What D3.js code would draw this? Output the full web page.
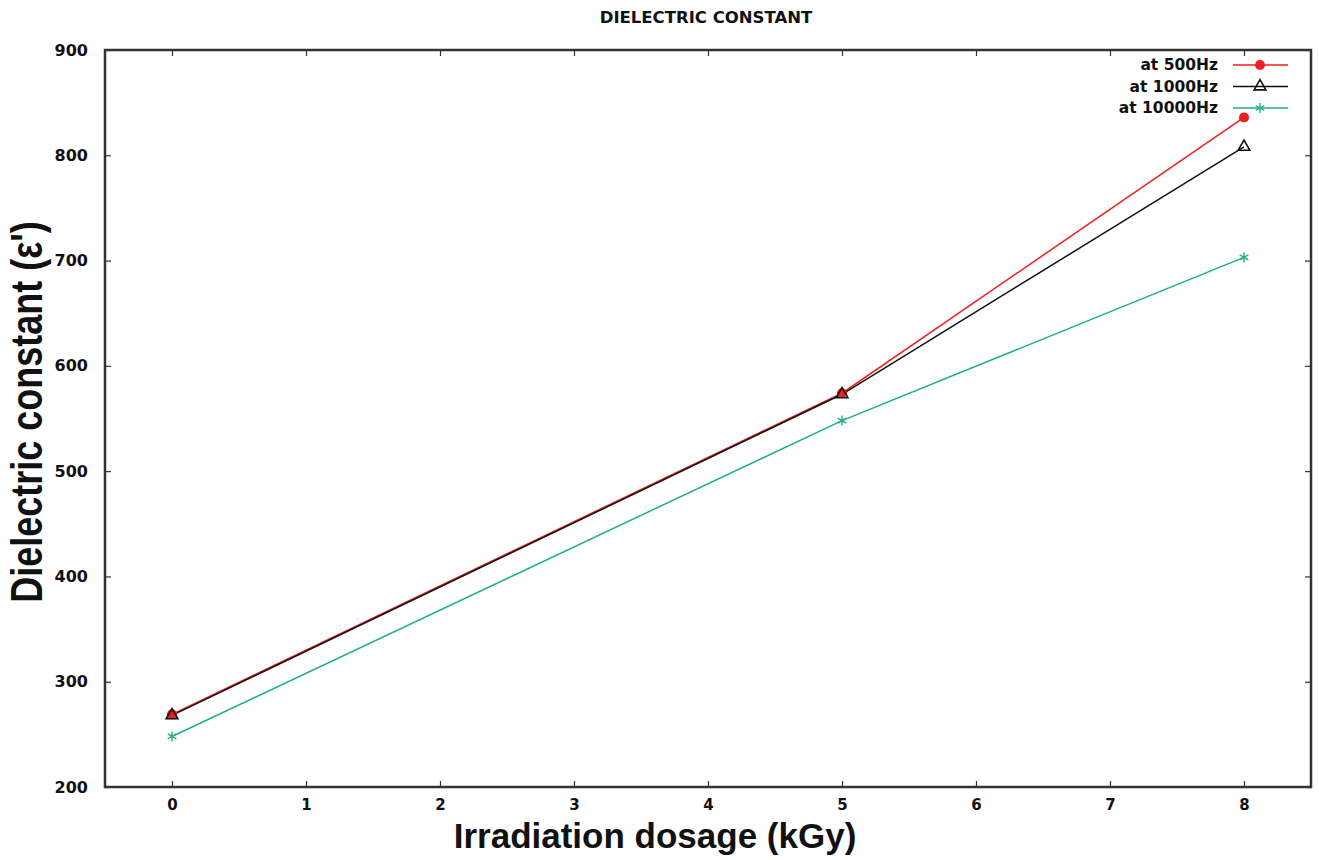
<!DOCTYPE html>
<html>
<head>
<meta charset="utf-8">
<script src="https://cdn.jsdelivr.net/npm/d3@7"></script>
<style>
  body { margin: 0; background: #fff; }
  svg text { fill: #111; }
</style>
</head>
<body>
<div id="chart"></div>
<script>
// data
var doses = [0, 5, 8];
var at500 = [269, 574, 836];
var at1000 = [268, 573, 808];
var at10000 = [248, 548, 703];
var xTicks = [0, 1, 2, 3, 4, 5, 6, 7, 8];
var yTicks = [200, 300, 400, 500, 600, 700, 800, 900];

var seriesNames = ["at 500Hz", "at 1000Hz", "at 10000Hz"];
var seriesValues = [at500, at1000, at10000];
var seriesColors = ["#f01e1e", "#111111", "#1fae8a"];
var seriesMarks = ["circle", "triangle", "star"];

var W = 1319, H = 860;
var margin = {top: 50, right: 8, bottom: 73, left: 105},
    width = W - margin.left - margin.right,
    height = H - margin.top - margin.bottom;

var svg = d3.select("#chart").append("svg")
    .attr("width", W)
    .attr("height", H);

var g = svg.append("g")
    .attr("transform", "translate(" + margin.left + "," + margin.top + ")");

var x = d3.scaleLinear().domain([-0.5, 8.5]).range([0, width]);
var y = d3.scaleLinear().domain([200, 900]).range([height, 0]);

// ticks on all four sides, pointing inward
function styleAxis(sel) {
    sel.select(".domain").remove();
    sel.selectAll("line").attr("stroke", "#333").attr("stroke-width", 1.2);
}
g.append("g")
    .attr("transform", "translate(0," + height + ")")
    .call(d3.axisBottom(x).tickValues(xTicks).tickSize(-6).tickPadding(12).tickFormat(d3.format("d")))
    .call(styleAxis)
    .selectAll("text")
        .style("font-family", "DejaVu Sans")
        .style("font-weight", "bold")
        .style("font-size", "15px");
g.append("g")
    .call(d3.axisTop(x).tickValues(xTicks).tickSize(-6).tickFormat(""))
    .call(styleAxis);
g.append("g")
    .call(d3.axisLeft(y).tickValues(yTicks).tickSize(-6).tickPadding(17))
    .call(styleAxis)
    .selectAll("text")
        .style("font-family", "DejaVu Sans")
        .style("font-weight", "bold")
        .style("font-size", "16px");
g.append("g")
    .attr("transform", "translate(" + width + ",0)")
    .call(d3.axisRight(y).tickValues(yTicks).tickSize(-6).tickFormat(""))
    .call(styleAxis);

// frame
g.append("rect")
    .attr("width", width)
    .attr("height", height)
    .attr("fill", "none")
    .attr("stroke", "#333")
    .attr("stroke-width", 2.5);

var line = d3.line()
    .x(function(d, i) { return x(doses[i]); })
    .y(function(d) { return y(d); });

function drawMark(sel, kind, color) {
    if (kind === "circle") {
        sel.append("circle").attr("r", 5).attr("fill", color);
    } else if (kind === "triangle") {
        sel.append("path")
            .attr("d", d3.symbol().type(d3.symbolTriangle).size(60))
            .attr("fill", "none").attr("stroke", color).attr("stroke-width", 1.6);
    } else {
        sel.append("path")
            .attr("d", d3.symbol().type(d3.symbolAsterisk).size(70))
            .attr("fill", "none").attr("stroke", color).attr("stroke-width", 1.4);
    }
}

// draw 10000Hz first, then 500Hz, then 1000Hz on top
var order = [2, 0, 1];
order.forEach(function(k) {
    g.append("path")
        .datum(seriesValues[k])
        .attr("fill", "none")
        .attr("stroke", seriesColors[k])
        .attr("stroke-width", 1.5)
        .attr("d", line);
});
order.forEach(function(k) {
    seriesValues[k].forEach(function(v, i) {
        var m = g.append("g")
            .attr("transform", "translate(" + x(doses[i]) + "," + y(v) + ")");
        drawMark(m, seriesMarks[k], seriesColors[k]);
    });
});

// legend
var legend = svg.append("g");
seriesNames.forEach(function(name, k) {
    var ly = 65 + k * 21.5;
    legend.append("text")
        .attr("x", 1218).attr("y", ly)
        .attr("dy", "0.35em")
        .attr("text-anchor", "end")
        .style("font-family", "DejaVu Sans")
        .style("font-weight", "bold")
        .style("font-size", "15.5px")
        .text(name);
    legend.append("line")
        .attr("x1", 1233).attr("x2", 1288)
        .attr("y1", ly).attr("y2", ly)
        .attr("stroke", seriesColors[k])
        .attr("stroke-width", 1.5);
    var m = legend.append("g").attr("transform", "translate(1260," + ly + ")");
    drawMark(m, seriesMarks[k], seriesColors[k]);
});

// title and axis labels
svg.append("text")
    .attr("x", 706).attr("y", 23)
    .attr("text-anchor", "middle")
    .style("font-family", "DejaVu Sans")
    .style("font-weight", "bold")
    .style("font-size", "16.5px")
    .text("DIELECTRIC CONSTANT");

svg.append("text")
    .attr("x", 655).attr("y", 848)
    .attr("text-anchor", "middle")
    .style("font-family", "Liberation Sans")
    .style("font-weight", "bold")
    .style("font-size", "35px")
    .text("Irradiation dosage (kGy)");

svg.append("text")
    .attr("transform", "translate(42,412) rotate(-90) scale(1,1.22)")
    .attr("text-anchor", "middle")
    .style("font-family", "Liberation Sans")
    .style("font-weight", "bold")
    .style("font-size", "36px")
    .text("Dielectric constant (ε')");
</script>
</body>
</html>
